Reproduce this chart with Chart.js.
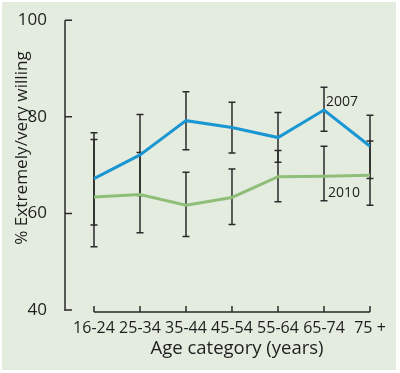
<!DOCTYPE html>
<html><head><meta charset="utf-8">
<script src="https://cdn.jsdelivr.net/npm/chart.js@4"></script>
<style>html,body{margin:0;padding:0;background:#fff;}canvas{display:block;}</style>
</head><body>
<canvas id="c" width="400" height="373"></canvas>
<script>
const categories = ['16-24','25-34','35-44','45-54','55-64','65-74','75 +'];
const values2007 = [67.2, 72.1, 79.2, 77.8, 75.7, 81.4, 73.9];
const upper2007  = [76.7, 80.5, 85.2, 83.0, 80.9, 86.1, 80.3];
const lower2007  = [57.6, 63.7, 73.2, 72.5, 70.6, 77.0, 67.2];
const values2010 = [63.4, 63.9, 61.7, 63.3, 67.6, 67.7, 67.9];
const upper2010  = [75.3, 72.6, 68.5, 69.2, 73.0, 73.9, 75.0];
const lower2010  = [53.1, 56.0, 55.2, 57.7, 62.4, 62.6, 61.7];
const yTicks = [40, 60, 80, 100];
const yTitle = '% Extremely/very willing';
const xTitle = 'Age category (years)';
const seriesNames = ['2007', '2010'];

const FONT = "'Open Sans', 'Noto Sans', sans-serif";
const INK = '#2a2a2a';
const BLUE = '#1a97d2';
const GREEN = '#8fbe79';

const toXY = arr => arr.map((v, i) => ({x: i, y: v}));

const decor = {
  id: 'decor',
  beforeDraw(chart) {
    const ctx = chart.ctx;
    ctx.save();
    ctx.fillStyle = '#fff';
    ctx.fillRect(0, 0, chart.width, chart.height);
    ctx.fillStyle = '#e4ece0';
    ctx.fillRect(2, 2, 394, 368);
    ctx.restore();
  },
  beforeDatasetsDraw(chart) {
    const ctx = chart.ctx, xs = chart.scales.x, ys = chart.scales.y;
    ctx.save();
    ctx.strokeStyle = INK;
    ctx.lineWidth = 1.5;
    const cap = 3.5;
    [[upper2007, lower2007], [upper2010, lower2010]].forEach(([up, lo]) => {
      up.forEach((u, i) => {
        const x = xs.getPixelForValue(i);
        const y1 = ys.getPixelForValue(u), y2 = ys.getPixelForValue(lo[i]);
        ctx.beginPath();
        ctx.moveTo(x, y1); ctx.lineTo(x, y2);
        ctx.moveTo(x - cap, y1); ctx.lineTo(x + cap, y1);
        ctx.moveTo(x - cap, y2); ctx.lineTo(x + cap, y2);
        ctx.stroke();
      });
    });
    ctx.restore();
  },
  afterDraw(chart) {
    const ctx = chart.ctx, xs = chart.scales.x, ys = chart.scales.y;
    const area = chart.chartArea;
    ctx.save();
    ctx.strokeStyle = INK;
    ctx.lineWidth = 1.5;
    const ax = area.left;
    ctx.beginPath();
    ctx.moveTo(ax, ys.getPixelForValue(100));
    ctx.lineTo(ax, ys.getPixelForValue(40) + 1);
    yTicks.forEach(t => {
      const y = ys.getPixelForValue(t);
      ctx.moveTo(ax, y); ctx.lineTo(ax + 7, y);
    });
    ctx.stroke();
    const by = area.bottom + 2;
    ctx.beginPath();
    ctx.moveTo(xs.getPixelForValue(0), by);
    ctx.lineTo(xs.getPixelForValue(categories.length - 1), by);
    categories.forEach((c, i) => {
      const x = xs.getPixelForValue(i);
      ctx.moveTo(x, by); ctx.lineTo(x, by - 6);
    });
    ctx.stroke();
    ctx.fillStyle = '#1e1e1e';
    ctx.textAlign = 'center';
    ctx.textBaseline = 'middle';
    ctx.font = "18.5px " + FONT;
    ctx.fillText(xTitle, 237, 349);
    ctx.save();
    ctx.translate(22, 148);
    ctx.rotate(-Math.PI / 2);
    ctx.font = "17.2px " + FONT;
    ctx.fillText(yTitle, 0, 0);
    ctx.restore();
    ctx.font = "14px " + FONT;
    ctx.textAlign = 'left';
    ctx.textBaseline = 'alphabetic';
    const px = xs.getPixelForValue(5);
    ctx.fillText(seriesNames[0], px + 2, ys.getPixelForValue(values2007[5]) - 4);
    ctx.fillText(seriesNames[1], px + 4, ys.getPixelForValue(values2010[5]) + 21);
    ctx.restore();
  }
};

new Chart(document.getElementById('c'), {
  type: 'line',
  data: {
    datasets: [
      {label: seriesNames[0], data: toXY(values2007), borderColor: BLUE, borderWidth: 3, pointRadius: 0, tension: 0, fill: false},
      {label: seriesNames[1], data: toXY(values2010), borderColor: GREEN, borderWidth: 3, pointRadius: 0, tension: 0, fill: false}
    ]
  },
  options: {
    responsive: false,
    animation: false,
    devicePixelRatio: 1,
    layout: {padding: {left: 0, top: 20, right: 30, bottom: 0}},
    plugins: {legend: {display: false}, tooltip: {enabled: false}},
    scales: {
      x: {
        type: 'linear', min: -0.63, max: 6,
        grid: {display: false}, border: {display: false},
        afterBuildTicks: s => { s.ticks = categories.map((c, i) => ({value: i})); },
        ticks: {
          autoSkip: false, maxRotation: 0, minRotation: 0, padding: 1,
          color: '#1e1e1e', font: {family: FONT, size: 16},
          callback: v => categories[Math.round(v)]
        },
        afterFit: s => { s.height = 63; }
      },
      y: {
        min: 40, max: 100,
        grid: {display: false}, border: {display: false},
        afterBuildTicks: s => { s.ticks = yTicks.map(v => ({value: v})); },
        ticks: {padding: 10, color: '#1e1e1e', font: {family: FONT, size: 17}},
        afterFit: s => { s.width = 65; }
      }
    }
  },
  plugins: [decor]
});
</script>
</body></html>
